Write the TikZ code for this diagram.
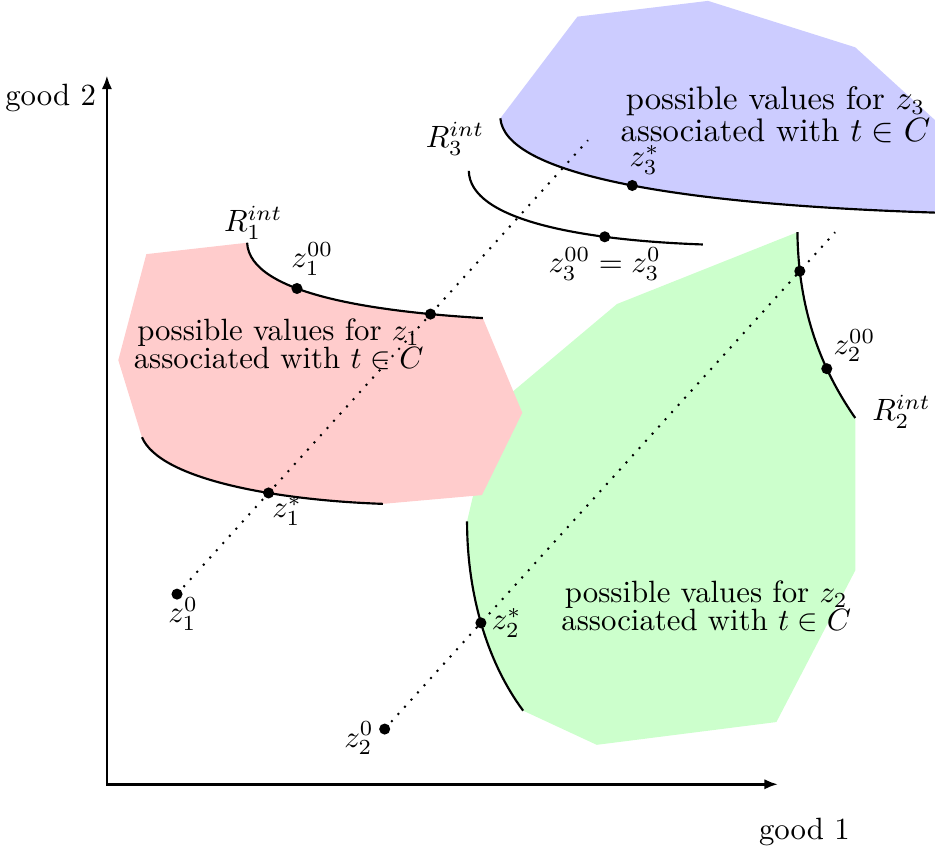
\documentclass[tikz,border=0pt]{standalone}
\usepackage{amsmath,amssymb}
\usepackage{xcolor}
\usepackage{tikz}
\usetikzlibrary{arrows.meta,positioning,calc,intersections}
\definecolor{cSetA}{HTML}{FFCCCC}
\definecolor{cSetB}{HTML}{CCFFCC}
\definecolor{cSetC}{HTML}{CCCCFF}

\begin{document}
\begin{tikzpicture}[
  curve/.style={line width=0.7pt},
  axis/.style={line width=0.9pt,{Latex[length=4.5pt,width=3.4pt]}-{Latex[length=4.5pt,width=3.4pt]}},
  ray/.style={line width=0.65pt,dash pattern=on 0.65pt off 2.5pt},
  lbl/.style={inner sep=1pt},
  zone/.style={align=center,font=\fontsize{10}{9.1}\selectfont}
]
  \useasboundingbox (-1.22,-0.80) rectangle (9.45,8.95);
  \clip (-1.22,-0.80) rectangle (9.45,8.95);

  \fill[cSetC] (4.49,7.60) -- (5.37,8.76) -- (6.86,8.94) -- (8.54,8.41) -- (9.57,7.47) -- (9.57,6.52)
    .. controls (6.20,6.62) and (4.54,7.01) .. (4.49,7.60) -- cycle;
  \fill[cSetB] (7.88,6.30) .. controls (7.89,5.53) and (8.08,4.84) .. (8.54,4.18) -- (8.54,2.44)
    -- (7.64,0.71) -- (5.59,0.45) -- (4.75,0.84) .. controls (4.32,1.42) and (4.11,2.21) .. (4.11,3.00)
    -- (4.18,3.30) -- (4.63,4.48) -- (5.82,5.48) -- cycle;
  \fill[cSetA] (0.45,6.05) -- (1.60,6.18) .. controls (1.63,5.58) and (3.12,5.39) .. (4.29,5.32)
    -- (4.74,4.24) -- (4.28,3.30) -- (3.15,3.20) .. controls (1.97,3.24) and (0.61,3.47) .. (0.40,3.96)
    -- (0.13,4.84) -- cycle;

  \coordinate (O) at (0,0);
  \coordinate (xend) at (7.66,0);
  \coordinate (yend) at (0,8.09);
  \draw[axis] (xend) -- (O) -- (yend);
  \node[left] (lgood2) at (0,7.83) {good 2};
  \node (lgood1) at (7.96,-0.55) {good 1};

  \node[zone] (t1) at (1.96,5.02) {possible values for $z_1$\\associated with $t\in C$};
  \node[zone] (t2) at (6.84,2.03) {possible values for $z_2$\\associated with $t\in C$};
  \node[zone,font=\fontsize{10.6}{8.6}\selectfont] (t3) at (7.63,7.64)
    {possible values for $z_3$\\associated with $t\in C$};

  \draw[curve,name path=r1] (1.60,6.18) coordinate (r1s)
    .. controls (1.63,5.58) and (3.12,5.39) .. (4.29,5.32) coordinate[pos=0.38] (z1oo);
  \draw[curve,name path=l1] (0.40,3.96) .. controls (0.61,3.47) and (1.97,3.24) .. (3.15,3.20);
  \draw[curve,name path=r2] (7.88,6.30) .. controls (7.89,5.53) and (8.08,4.84) .. (8.54,4.18)
    coordinate (r2e) coordinate[pos=0.72] (z2oo);
  \draw[curve,name path=l2] (4.11,3.00) .. controls (4.11,2.21) and (4.32,1.42) .. (4.75,0.84);
  \draw[curve,name path=u3] (4.49,7.60) .. controls (4.54,7.01) and (6.20,6.62) .. (9.57,6.52)
    coordinate[pos=0.54] (z3s);
  \draw[curve,name path=l3] (4.13,7.00) coordinate (l3s)
    .. controls (4.14,6.44) and (5.40,6.21) .. (6.80,6.16) coordinate[pos=0.72] (z3oo);

  \coordinate (z1o) at (0.80,2.17);
  \coordinate (d1e) at (5.49,7.35);
  \coordinate (z2o) at (3.17,0.63);
  \coordinate (d2e) at (8.31,6.30);
  \draw[ray,name path=d1] (z1o) -- (d1e);
  \draw[ray,name path=d2] (z2o) -- (d2e);
  \path[name intersections={of=d1 and r1,by=z1x}];
  \path[name intersections={of=d1 and l1,by=z1s}];
  \path[name intersections={of=d2 and r2,by=z2x}];
  \path[name intersections={of=d2 and l2,by=z2s}];

  \foreach \p in {z1o,z1s,z1oo,z1x,z2o,z2s,z2oo,z2x,z3s,z3oo}
    \fill (\p) circle (1.8pt);

  \node[lbl,below,xshift=2pt] (lz1o) at (z1o) {$z_1^0$};
  \node[lbl,below right] (lz1s) at (z1s) {$z_1^*$};
  \node[lbl,above=3pt,xshift=5pt] (lz1oo) at (z1oo) {$z_1^{00}$};
  \node[lbl,above,xshift=2pt] (lR1) at (r1s) {$R_1^{int}$};
  \node[left,yshift=-3pt] (lz2o) at (z2o) {$z_2^0$};
  \node[right] (lz2s) at (z2s) {$z_2^*$};
  \node[above right,inner sep=2pt] (lz2oo) at (z2oo) {$z_2^{00}$};
  \node[right,xshift=2pt,yshift=2pt] (lR2) at (r2e) {$R_2^{int}$};
  \node[below] (lz3oo) at (z3oo) {$z_3^{00}=z_3^0$};
  \node[above,xshift=4pt] (lz3s) at (z3s) {$z_3^*$};
  \node[above,xshift=-4.5pt,yshift=1.5pt] (lR3) at (l3s) {$R_3^{int}$};
\end{tikzpicture}
\end{document}
